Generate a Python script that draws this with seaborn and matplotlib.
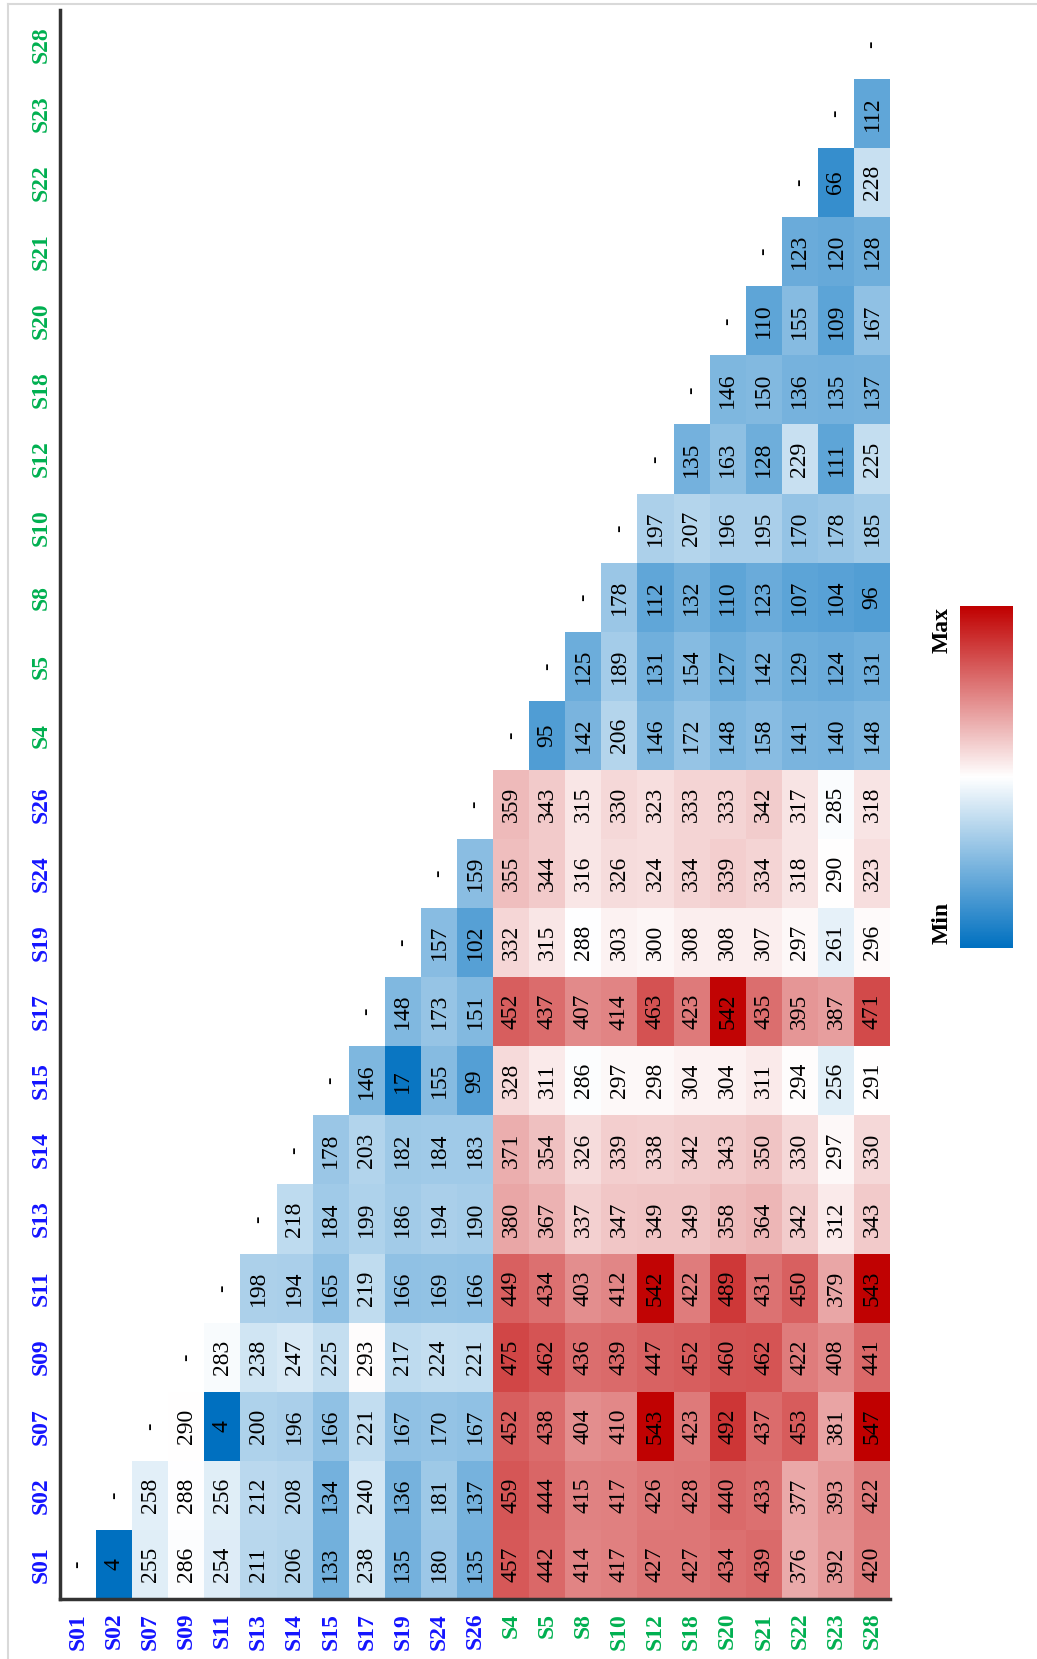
import numpy as np
import pandas as pd
import matplotlib.pyplot as plt
import seaborn as sns
from matplotlib.colors import LinearSegmentedColormap, TwoSlopeNorm

# station labels (blue group first, then green group)
blue_sites = ["S01", "S02", "S07", "S09", "S11", "S13", "S14", "S15",
              "S17", "S19", "S24", "S26"]
green_sites = ["S4", "S5", "S8", "S10", "S12", "S18", "S20", "S21",
               "S22", "S23", "S28"]
sites = blue_sites + green_sites

# distances from each site to every later site
from_S01 = [4, 255, 286, 254, 211, 206, 133, 238, 135, 180, 135,
            457, 442, 414, 417, 427, 427, 434, 439, 376, 392, 420]
from_S02 = [258, 288, 256, 212, 208, 134, 240, 136, 181, 137,
            459, 444, 415, 417, 426, 428, 440, 433, 377, 393, 422]
from_S07 = [290, 4, 200, 196, 166, 221, 167, 170, 167,
            452, 438, 404, 410, 543, 423, 492, 437, 453, 381, 547]
from_S09 = [283, 238, 247, 225, 293, 217, 224, 221,
            475, 462, 436, 439, 447, 452, 460, 462, 422, 408, 441]
from_S11 = [198, 194, 165, 219, 166, 169, 166,
            449, 434, 403, 412, 542, 422, 489, 431, 450, 379, 543]
from_S13 = [218, 184, 199, 186, 194, 190,
            380, 367, 337, 347, 349, 349, 358, 364, 342, 312, 343]
from_S14 = [178, 203, 182, 184, 183,
            371, 354, 326, 339, 338, 342, 343, 350, 330, 297, 330]
from_S15 = [146, 17, 155, 99,
            328, 311, 286, 297, 298, 304, 304, 311, 294, 256, 291]
from_S17 = [148, 173, 151,
            452, 437, 407, 414, 463, 423, 542, 435, 395, 387, 471]
from_S19 = [157, 102,
            332, 315, 288, 303, 300, 308, 308, 307, 297, 261, 296]
from_S24 = [159,
            355, 344, 316, 326, 324, 334, 339, 334, 318, 290, 323]
from_S26 = [359, 343, 315, 330, 323, 333, 333, 342, 317, 285, 318]
from_S4 = [95, 142, 206, 146, 172, 148, 158, 141, 140, 148]
from_S5 = [125, 189, 131, 154, 127, 142, 129, 124, 131]
from_S8 = [178, 112, 132, 110, 123, 107, 104, 96]
from_S10 = [197, 207, 196, 195, 170, 178, 185]
from_S12 = [135, 163, 128, 229, 111, 225]
from_S18 = [146, 150, 136, 135, 137]
from_S20 = [110, 155, 109, 167]
from_S21 = [123, 120, 128]
from_S22 = [66, 228]
from_S23 = [112]

rows = [from_S01, from_S02, from_S07, from_S09, from_S11, from_S13, from_S14,
        from_S15, from_S17, from_S19, from_S24, from_S26, from_S4, from_S5,
        from_S8, from_S10, from_S12, from_S18, from_S20, from_S21, from_S22,
        from_S23]

n = len(sites)
mat = np.full((n, n), np.nan)
for k, row in enumerate(rows):
    mat[k, k + 1:] = row

df = pd.DataFrame(mat, index=sites, columns=sites).iloc[::-1]
annot = df.map(lambda v: "" if np.isnan(v) else f"{int(v)}")

cmap = LinearSegmentedColormap.from_list("xl3", ["#0070c0", "#ffffff", "#c00000"])
norm = TwoSlopeNorm(vmin=4, vcenter=290, vmax=547)

fig = plt.figure(figsize=(10.37, 16.59), dpi=100)
ax = fig.add_axes([0.0579, 0.0362, 0.8004, 0.9578])
cax = fig.add_axes([0.9257, 0.4286, 0.0511, 0.2061])

sns.heatmap(df, ax=ax, cbar_ax=cax, cmap=cmap, norm=norm,
            annot=annot, fmt="",
            annot_kws={"rotation": 90, "color": "black", "fontsize": 17,
                       "family": "Liberation Serif"},
            cbar_kws={"ticks": []})

# diagonal markers
for k in range(n):
    ax.text(k + 0.5, n - k - 0.5, "-", rotation=90, ha="center", va="center",
            fontsize=16, family="Liberation Serif", color="black")

ax.set_xlabel("")
ax.set_ylabel("")
ax.tick_params(length=0)
ax.tick_params(axis="x", pad=10)
ax.tick_params(axis="y", pad=6)
for lab in ax.get_xticklabels() + ax.get_yticklabels():
    lab.set_rotation(90)
    lab.set_fontsize(17)
    lab.set_fontweight("bold")
    lab.set_family("Liberation Serif")
    lab.set_color("#1414ff" if lab.get_text() in blue_sites else "#00b050")
for lab in ax.get_yticklabels():
    lab.set_va("center")

for side in ["left", "bottom"]:
    ax.spines[side].set_visible(True)
    ax.spines[side].set_color("#333333")
    ax.spines[side].set_linewidth(2.5)

cbar = ax.collections[0].colorbar
cbar.outline.set_visible(False)
fig.text(942 / 1037, 1 - 630 / 1659, "Max", rotation=90, ha="center", va="center",
         fontsize=17, fontweight="bold", family="Liberation Serif")
fig.text(942 / 1037, 1 - 923 / 1659, "Min", rotation=90, ha="center", va="center",
         fontsize=17, fontweight="bold", family="Liberation Serif")

# light frame of the original screenshot
fig.add_artist(plt.Line2D([8 / 1037, 1], [1 - 4 / 1659, 1 - 4 / 1659],
                          color="#d9d9d9", lw=1.5))
fig.add_artist(plt.Line2D([8 / 1037, 8 / 1037], [0, 1 - 4 / 1659],
                          color="#d9d9d9", lw=1.5))

fig.savefig("out.png", dpi=100)
